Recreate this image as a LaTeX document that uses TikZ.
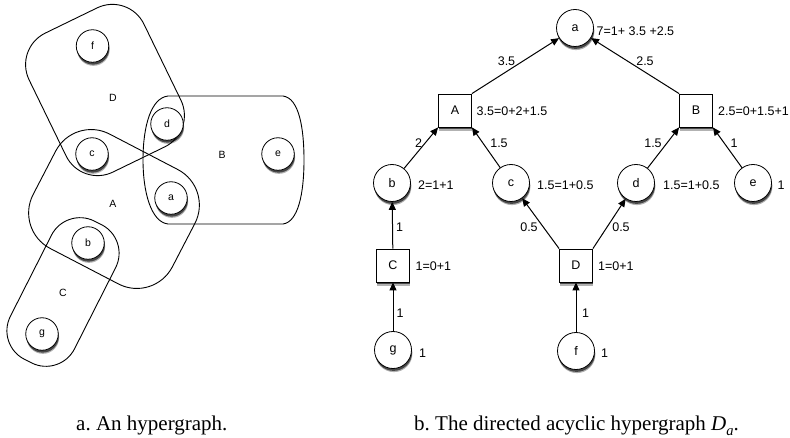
\documentclass[tikz,border=0pt]{standalone}
\usepackage{fontspec}
\setmainfont{Liberation Serif}
\newfontfamily\hv{Liberation Sans}
\usetikzlibrary{arrows.meta,shadows}
\begin{document}
\begin{tikzpicture}[x=1pt,y=-1pt,
  shd/.style={drop shadow={shadow xshift=0.9pt,shadow yshift=-3.6pt,opacity=0.3,fill=black},
              drop shadow={shadow xshift=0.6pt,shadow yshift=-2.4pt,opacity=0.6,fill=black}},
  lfont/.style={font=\hv\fontsize{10.5}{12}\selectfont},
  rfont/.style={font=\hv\fontsize{12.5}{14}\selectfont},
  lv/.style={circle,draw,line width=0.8pt,fill=white,minimum size=32.5pt,inner sep=0pt,lfont,shd},
  rv/.style={circle,draw,line width=0.8pt,fill=white,minimum size=37pt,inner sep=0pt,rfont,shd},
  he/.style={rectangle,draw,line width=0.8pt,fill=white,minimum size=33pt,inner sep=0pt,rfont,shd},
  hyp/.style={draw,line width=0.9pt,rounded corners=#1},
  arr/.style={draw,line width=1pt,-{Triangle[length=8pt,width=7pt]}},
  lab/.style={rfont,inner sep=0pt},
  wlab/.style={rfont,inner sep=0pt,anchor=west},
  captext/.style={font=\fontsize{21}{24}\selectfont,inner sep=0pt,anchor=base west}
]
\useasboundingbox (0,0) rectangle (790,438);

% ---------- left: hypergraph ----------
\draw[hyp=35] (13.8,48.4) -- (128.6,-7.4) -- (196.2,131.6) -- (81.4,187.4) -- cycle;
\draw[line width=0.9pt] (168,96) -- (283,96) .. controls (299,98) and (304,128) .. (304,160)
   .. controls (304,194) and (298,222) .. (283,224) -- (168,224)
   .. controls (151,222) and (143,192) .. (143,160)
   .. controls (143,126) and (151,98) .. (168,96) -- cycle;
\draw[hyp=40] (74.1,115.6) -- (213.3,188) -- (153.9,302.4) -- (14.7,230) -- cycle;
\draw[hyp=32] (65.9,206.7) -- (130.1,239.1) -- (60.1,377.3) -- (-4.1,344.9) -- cycle;

\node[lfont] (lD) at (113,98) {D};
\node[lfont] (lB) at (222,155) {B};
\node[lfont] (lA) at (113,204) {A};
\node[lfont] (lC) at (63,293) {C};

\node[lv] (lf) at (92.5,46) {f};
\node[lv] (ld) at (167,124) {d};
\node[lv] (lc) at (92,154) {c};
\node[lv] (le) at (278,154) {e};
\node[lv] (la) at (171,198) {a};
\node[lv] (lb) at (88,243) {b};
\node[lv] (lg) at (42,334) {g};

% ---------- right: DAH ----------
\node[rv] (a) at (575,28) {a};
\node[he] (A) at (455,110.5) {A};
\node[he] (B) at (696,110.5) {B};
\node[rv] (b) at (392,183) {b};
\node[rv] (c) at (511,183) {c};
\node[rv] (d) at (636,183) {d};
\node[rv] (e) at (753,183) {e};
\node[he] (C) at (393,265.5) {C};
\node[he] (D) at (576,265.5) {D};
\node[rv] (g) at (393,350) {g};
\node[rv] (f) at (576,351) {f};

\draw[arr] (A.north east) -- (a);
\draw[arr] (B.north west) -- (a);
\draw[arr] (b) -- (A.south west);
\draw[arr] (c) -- (A.south east);
\draw[arr] (d) -- (B.south west);
\draw[arr] (e) -- (B.south east);
\draw[arr] (C) -- (b);
\draw[arr] (D.north west) -- (c);
\draw[arr] (D.north east) -- (d);
\draw[arr] (g) -- (C);
\draw[arr] (f) -- (D);

% edge labels
\node[lab] (l1) at (506.5,61) {3.5};
\node[lab] (l2) at (645,61) {2.5};
\node[lab] (l3) at (418.5,143) {2};
\node[lab] (l4) at (499,143) {1.5};
\node[lab] (l5) at (653,143) {1.5};
\node[lab] (l6) at (734,143) {1};
\node[lab] (l7) at (399.5,227) {1};
\node[lab] (l8) at (529,227) {0.5};
\node[lab] (l9) at (621,227) {0.5};
\node[lab] (l10) at (400,313) {1};
\node[lab] (l11) at (585.5,313) {1};

% node labels
\node[wlab] (v1) at (596.5,31) {7=1+ 3.5 +2.5};
\node[wlab] (v2) at (476.5,111) {3.5=0+2+1.5};
\node[wlab] (v3) at (718,111) {2.5=0+1.5+1};
\node[wlab] (v4) at (418,185) {2=1+1};
\node[wlab] (v5) at (537,185) {1.5=1+0.5};
\node[wlab] (v6) at (663,185) {1.5=1+0.5};
\node[wlab] (v7) at (777.5,185) {1};
\node[wlab] (v8) at (415.5,266) {1=0+1};
\node[wlab] (v9) at (598,266) {1=0+1};
\node[wlab] (v10) at (419,353) {1};
\node[wlab] (v11) at (601,353) {1};

% captions
\node[captext] (capa) at (76,430) {a.\ An hypergraph.};
\node[captext] (capb) at (414,430) {b.\ The directed acyclic hypergraph \textit{D}\raisebox{-0.28em}{\fontsize{14.5}{15}\selectfont\textit{a}}.};
\end{tikzpicture}
\end{document}
